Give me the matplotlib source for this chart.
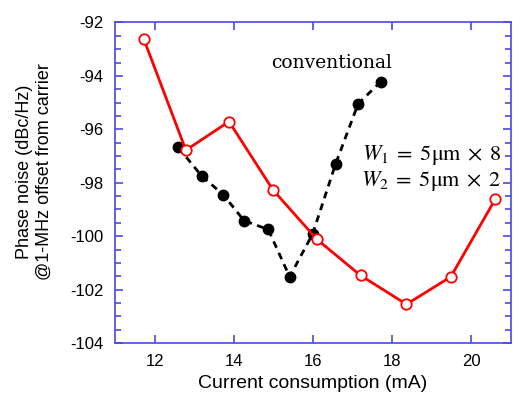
import matplotlib
matplotlib.use("Agg")
import matplotlib.pyplot as plt
from matplotlib.ticker import MultipleLocator

plt.rcParams['font.family'] = ['Liberation Sans', 'DejaVu Sans']
plt.rcParams['axes.unicode_minus'] = False
plt.rcParams['mathtext.fontset'] = 'stix'

# proposed design (red, open circles)
prop_x = [11.73, 12.79, 13.88, 14.99, 16.10, 17.20, 18.36, 19.48, 20.60]
prop_y = [-92.63, -96.78, -95.71, -98.27, -100.12, -101.47, -102.55, -101.52, -98.62]

# conventional (black, filled, dashed)
conv_x = [12.60, 13.19, 13.73, 14.26, 14.87, 15.41, 15.99, 16.57, 17.14, 17.71]
conv_y = [-96.68, -97.75, -98.44, -99.42, -99.75, -101.52, -99.92, -97.30, -95.04, -94.22]

spine_col = '#4a4ae0'

fig = plt.figure(figsize=(5.14, 3.96), dpi=100)
ax = fig.add_axes([0.2237, 0.1338, 0.7705, 0.8094])

ax.plot(conv_x, conv_y, color='black', ls=(0, (2.5, 2)), lw=2,
        marker='o', ms=7.5, mfc='black', mec='black', zorder=2)
ax.plot(prop_x, prop_y, color='#ff0000', lw=2,
        marker='o', ms=7.5, mfc='white', mec='#ff0000', mew=1.3, zorder=3)

ax.set_xlim(11, 21)
ax.set_ylim(-104, -92)
ax.xaxis.set_major_locator(MultipleLocator(2))
ax.yaxis.set_major_locator(MultipleLocator(2))
ax.yaxis.set_minor_locator(MultipleLocator(0.5))

for s in ax.spines.values():
    s.set_color(spine_col)
    s.set_linewidth(1.2)
ax.tick_params(which='both', direction='in', top=True, right=True,
               color=spine_col, labelsize=12)
ax.tick_params(which='major', length=6, width=1.2)
ax.tick_params(which='minor', length=4, width=1.2)
ax.tick_params(axis='x', pad=8)
ax.tick_params(axis='y', pad=8)

ax.set_xlabel('Current consumption (mA)', fontsize=14, labelpad=4)
ax.set_ylabel('Phase noise (dBc/Hz)\n@1-MHz offset from carrier', fontsize=13)
ax.yaxis.set_label_coords(-0.157, 0.535)

ax.text(16.47, -93.52, 'conventional', fontsize=13.5, family='DejaVu Serif',
        ha='center', va='center')
ax.text(20.75, -96.95, r'$W_1\;=\;5\mathrm{\mu m}\;\times\;8$', fontsize=16,
        ha='right', va='center')
ax.text(20.75, -97.95, r'$W_2\;=\;5\mathrm{\mu m}\;\times\;2$', fontsize=16,
        ha='right', va='center')

fig.savefig('out.png', dpi=100)
